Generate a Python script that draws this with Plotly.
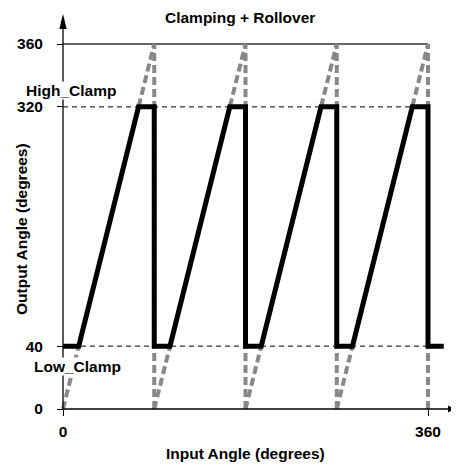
import numpy as np
import plotly.graph_objects as go

# ---------------- data ----------------
rollover_starts = [0, 90, 180, 270]      # input angle where each output ramp starts
rollover_period = 90                      # degrees of input per full output turn
full_scale = 360                          # output angle at rollover
low_clamp = 40                            # Low_Clamp (degrees)
high_clamp = 320                          # High_Clamp (degrees)
x_tick_vals = [0, 360]
x_tick_text = ["0", "360"]
y_tick_vals = [0, 40, 320, 360]
y_tick_text = ["0", "40", "320", "360"]
# schematic (not-to-scale) output axis: level -> drawn height
y_scale_levels = [0, 40, 320, 360]
y_scale_drawn = [0, 62, 298, 360]

# ---------------- geometry helpers ----------------
OFF = 8                      # page body margin
W, H = 459 - OFF, 464 - OFF  # figure size
PX_PER_UNIT = 365 / 360
X0_PX, Y0_PX = 63 - OFF, 409 - OFF


def px_x(px):
    return (px - OFF - X0_PX) / PX_PER_UNIT


def px_y(py):
    return (Y0_PX - (py - OFF)) / PX_PER_UNIT


def yd(v):
    return float(np.interp(v, y_scale_levels, y_scale_drawn))


L, Hc, TOP = yd(low_clamp), yd(high_clamp), yd(full_scale)

# clamped + rollover output (black)
bx, by = [rollover_starts[0]], [L]
for s in rollover_starts:
    e = s + rollover_period
    x1 = s + rollover_period * L / TOP
    x2 = s + rollover_period * Hc / TOP
    bx += [x1, x2, e, e]
    by += [L, Hc, Hc, L]
last = rollover_starts[-1] + rollover_period
bx.append(last + rollover_period * L / TOP)
by.append(L)

# unclamped ramps and rollover drops (grey dashed)
gx, gy = [], []
for s in rollover_starts:
    e = s + rollover_period
    gx += [s, e, None, e, e, None]
    gy += [yd(0), TOP, None, yd(0), TOP, None]

FONT = "Liberation Sans, Arial, sans-serif"
FS = 15.5

fig = go.Figure()
# clamp reference lines
for lv in [low_clamp, high_clamp]:
    fig.add_trace(go.Scatter(x=[0, full_scale], y=[yd(lv), yd(lv)], mode="lines",
                             line=dict(color="black", width=1, dash="5px,4px"),
                             hoverinfo="skip", showlegend=False))
# full-scale line
fig.add_trace(go.Scatter(x=[0, full_scale], y=[TOP, TOP], mode="lines",
                         line=dict(color="#333333", width=1.4),
                         hoverinfo="skip", showlegend=False))
fig.add_trace(go.Scatter(x=gx, y=gy, mode="lines",
                         line=dict(color="#888888", width=4, dash="8px,4px"),
                         hoverinfo="skip", showlegend=False))
fig.add_trace(go.Scatter(x=bx, y=by, mode="lines",
                         line=dict(color="black", width=5),
                         hoverinfo="skip", showlegend=False))

# axes with arrows
x_tip, y_tip = px_x(455), px_y(14)
xa_len, xa_hw = 7 / PX_PER_UNIT, 3.5 / PX_PER_UNIT
ya_len, ya_hw = 15 / PX_PER_UNIT, 3.7 / PX_PER_UNIT
shapes = [
    dict(type="line", x0=0, y0=0, x1=x_tip - xa_len, y1=0, xref="x", yref="y",
         line=dict(color="black", width=1.3), layer="above"),
    dict(type="line", x0=0, y0=0, x1=0, y1=y_tip - ya_len, xref="x", yref="y",
         line=dict(color="black", width=1.3), layer="above"),
    dict(type="path", xref="x", yref="y", fillcolor="black", line=dict(width=0),
         path=f"M {x_tip},0 L {x_tip - xa_len},{xa_hw} L {x_tip - xa_len},{-xa_hw} Z"),
    dict(type="path", xref="x", yref="y", fillcolor="black", line=dict(width=0),
         path=f"M 0,{y_tip} L {ya_hw},{y_tip - ya_len} L {-ya_hw},{y_tip - ya_len} Z"),
]


def ann(text, px, py, angle=0):
    return dict(text=f"<b>{text}</b>", x=(px - OFF) / W, y=1 - (py - OFF) / H,
                xref="paper", yref="paper",
                xanchor="center", yanchor="middle", showarrow=False, textangle=angle,
                font=dict(family=FONT, size=FS, color="black"))


annotations = [
    ann("Clamping + Rollover", 240, 17),
    ann("Input Angle (degrees)", 245.5, 453),
    ann("Output Angle (degrees)", 21, 229, -90),
]
for label, px, py in [("High_Clamp", 70.5, 90), ("Low_Clamp", 77.5, 366)]:
    a = ann(label, px, py)
    a.update(bgcolor="white", borderpad=0)
    annotations.append(a)

fig.update_layout(
    width=W, height=H, margin=dict(l=0, r=0, t=0, b=0, pad=0),
    template="none", plot_bgcolor="white", paper_bgcolor="white",
    shapes=shapes, annotations=annotations, showlegend=False,
    xaxis=dict(range=[px_x(OFF), px_x(OFF + W)], domain=[0, 1], anchor="free",
               position=(H - Y0_PX) / H,
               tickvals=x_tick_vals, ticktext=x_tick_text, ticks="outside", ticklen=6,
               tickwidth=1, tickcolor="black", showline=False, showgrid=False, zeroline=False,
               automargin=False, ticklabelstandoff=2,
               tickfont=dict(family=FONT, size=FS, color="black", weight="bold")),
    yaxis=dict(range=[px_y(OFF + H), px_y(OFF)], domain=[0, 1], anchor="free",
               position=X0_PX / W,
               tickvals=[yd(v) for v in y_tick_vals], ticktext=y_tick_text, ticks="outside",
               ticklen=6, tickwidth=1, tickcolor="black", showline=False, showgrid=False,
               zeroline=False, automargin=False, ticklabelstandoff=11,
               tickfont=dict(family=FONT, size=FS, color="black", weight="bold")),
)

fig.write_html("out.html")
